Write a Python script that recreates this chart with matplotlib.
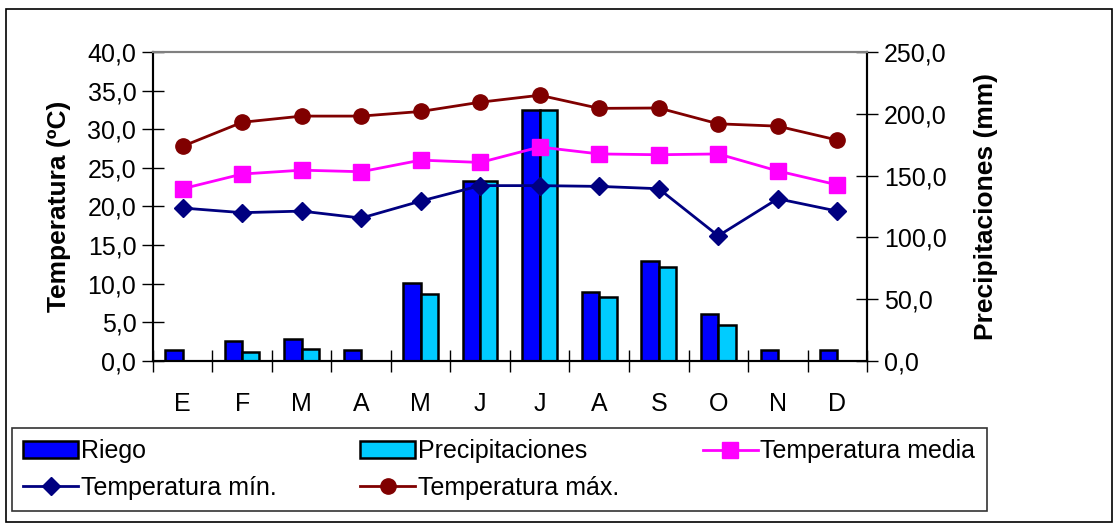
import numpy as np
import matplotlib
matplotlib.use('Agg')
from matplotlib import pyplot as plt
from matplotlib.patches import Rectangle
from matplotlib.ticker import FuncFormatter, FixedLocator

plt.rcParams['font.family'] = ['Liberation Sans', 'DejaVu Sans']

meses = ['E', 'F', 'M', 'A', 'M', 'J', 'J', 'A', 'S', 'O', 'N', 'D']
riego = [9, 16, 18, 9, 63, 146, 203, 56, 81, 38, 9, 9]
precipitaciones = [0, 7, 9.5, 0, 54, 146, 203, 52, 76, 29, 0, 0]
t_media = [22.3, 24.2, 24.7, 24.5, 26.0, 25.7, 27.7, 26.8, 26.7, 26.8, 24.6, 22.8]
t_min = [19.8, 19.2, 19.4, 18.5, 20.7, 22.7, 22.7, 22.6, 22.3, 16.2, 21.0, 19.4]
t_max = [27.8, 30.9, 31.7, 31.7, 32.3, 33.5, 34.4, 32.7, 32.75, 30.7, 30.4, 28.6]

fig = plt.figure(figsize=(11.14, 5.23), dpi=100)
ax = fig.add_axes([0.1373, 0.3098, 0.641, 0.5908])
ax2 = ax.twinx()

x = np.arange(len(meses))
w = 0.29
b1 = ax2.bar(x - w / 2, riego, w, color='#0000FF', edgecolor='black', linewidth=1.8, label='Riego')
b2 = ax2.bar(x + w / 2, precipitaciones, w, color='#00CCFF', edgecolor='black', linewidth=1.8,
             label='Precipitaciones')

l_med, = ax.plot(x, t_media, color='#FF00FF', lw=2, marker='s', ms=11, label='Temperatura media')
l_min, = ax.plot(x, t_min, color='#000080', lw=2, marker='D', ms=9, label='Temperatura mín.')
l_max, = ax.plot(x, t_max, color='#800000', lw=2, marker='o', ms=11, label='Temperatura máx.')

ax.set_zorder(ax2.get_zorder() + 1)
ax.patch.set_visible(False)

ax.set_xlim(-0.5, 11.5)
ax.set_ylim(0, 40)
ax2.set_ylim(0, 250)
ax.set_yticks(np.arange(0, 40.1, 5))
ax2.set_yticks(np.arange(0, 250.1, 50))
fmt = FuncFormatter(lambda v, p: ('%.1f' % v).replace('.', ','))
ax.yaxis.set_major_formatter(fmt)
ax2.yaxis.set_major_formatter(fmt)

ax.set_xticks(x)
ax.set_xticklabels(meses)
ax.xaxis.set_minor_locator(FixedLocator(np.arange(-0.5, 12, 1)))
ax.tick_params(axis='x', which='major', length=0, pad=22, labelsize=18)
ax.tick_params(axis='x', which='minor', length=16, direction='inout', width=1)
ax.tick_params(axis='y', length=16, direction='inout', width=1, labelsize=18, pad=4)
ax2.tick_params(axis='y', length=16, direction='inout', width=1, labelsize=18, pad=4)

for a in (ax, ax2):
    a.spines['top'].set_color('#808080')
    for s in a.spines.values():
        s.set_linewidth(1.5)
ax2.spines['left'].set_color('#404040')

ax.set_ylabel('Temperatura (ºC)', fontsize=19, fontweight='bold', labelpad=12)
ax2.set_ylabel('Precipitaciones (mm)', fontsize=19, fontweight='bold', labelpad=20, rotation=90)

# orden por columnas para que quede por filas como en la original
handles = [b1, l_min, b2, l_max, l_med]
labels = [h.get_label() for h in handles]
leg = fig.legend(handles, labels, ncol=3, loc='lower left',
                 bbox_to_anchor=(12 / 1114, 12 / 523),
                 fontsize=18, frameon=True, fancybox=False, edgecolor='black',
                 handlelength=2.2, handleheight=0.7, handletextpad=0.1,
                 columnspacing=3.35, labelspacing=0.5, borderpad=0.45, borderaxespad=0)
leg.get_frame().set_linewidth(1.2)

fig.patches.append(Rectangle((6 / 1114, 1 / 523), 1106 / 1114, 513 / 523, transform=fig.transFigure,
                             fill=False, edgecolor='black', linewidth=1.2))

fig.savefig('out.png', dpi=100)
